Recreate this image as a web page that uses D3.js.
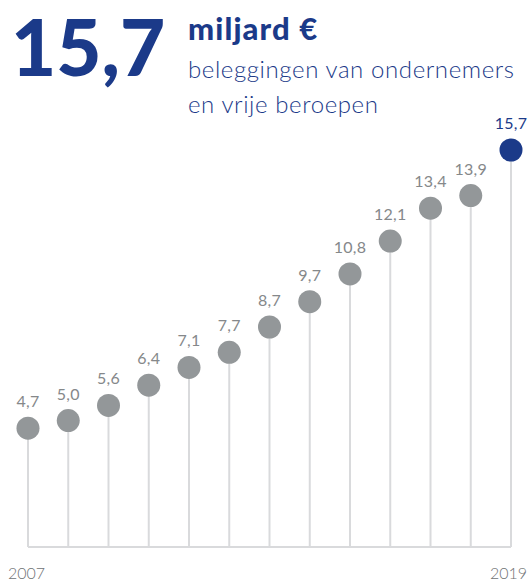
<!DOCTYPE html>
<html>
<head>
<meta charset="utf-8">
<script src="https://cdn.jsdelivr.net/npm/d3@7"></script>
<style>
  body { margin: 0; background: #fff; }
  svg { display: block; font-family: Lato, "Open Sans", sans-serif; }
</style>
</head>
<body>
<svg id="chart" width="528" height="581"></svg>
<script>
// data
let years = [2007, 2008, 2009, 2010, 2011, 2012, 2013, 2014, 2015, 2016, 2017, 2018, 2019];
let values = [4.7, 5.0, 5.6, 6.4, 7.1, 7.7, 8.7, 9.7, 10.8, 12.1, 13.4, 13.9, 15.7];
let yearLabels = ["2007", "2019"];

let blue = "#1b3a89";
let grey = "#939799";

let svg = d3.select("#chart");

//x,y scales
let x = d3.scaleLinear()
            .domain([2007, 2019])
            .range([28, 511]);
let y = d3.scaleLinear()
            .domain([0, 15.7])
            .range([547, 150]);

// header
svg.append("text")
    .attr("x", 11)
    .attr("y", 76)
    .attr("font-size", "78px")
    .attr("font-weight", 900)
    .attr("fill", blue)
    .text("15,7");

svg.append("text")
    .attr("x", 188)
    .attr("y", 40)
    .attr("font-size", "31px")
    .attr("font-weight", 900)
    .attr("letter-spacing", "1.1px")
    .attr("fill", blue)
    .text("miljard €");

svg.append("text")
    .attr("x", 188)
    .attr("y", 78)
    .attr("font-size", "24px")
    .attr("font-weight", 300)
    .attr("letter-spacing", "0.6px")
    .attr("fill", blue)
    .text("beleggingen van ondernemers");

svg.append("text")
    .attr("x", 188)
    .attr("y", 113)
    .attr("font-size", "24px")
    .attr("font-weight", 300)
    .attr("letter-spacing", "0.6px")
    .attr("fill", blue)
    .text("en vrije beroepen");

// stems
svg.selectAll("line.stem")
    .data(values)
    .enter()
    .append("line")
        .attr("class", "stem")
        .attr("x1", (d, i) => x(years[i]))
        .attr("x2", (d, i) => x(years[i]))
        .attr("y1", y(0))
        .attr("y2", d => y(d))
        .attr("stroke", "#d9dadc")
        .attr("stroke-width", 2);

// baseline
svg.append("line")
    .attr("x1", x(years[0]))
    .attr("x2", x(years[years.length - 1]))
    .attr("y1", y(0))
    .attr("y2", y(0))
    .attr("stroke", "#d9dadc")
    .attr("stroke-width", 2);

// dots
svg.selectAll("circle")
    .data(values)
    .enter()
    .append("circle")
        .attr("cx", (d, i) => x(years[i]))
        .attr("cy", d => y(d))
        .attr("r", 11.5)
        .attr("fill", (d, i) => i === values.length - 1 ? blue : grey);

// value labels
svg.selectAll("text.val")
    .data(values)
    .enter()
    .append("text")
        .attr("class", "val")
        .attr("x", (d, i) => x(years[i]))
        .attr("y", d => y(d) - 21)
        .attr("text-anchor", "middle")
        .attr("font-size", "16px")
        .attr("font-weight", 400)
        .attr("letter-spacing", "0.3px")
        .attr("fill", (d, i) => i === values.length - 1 ? blue : "#85888a")
        .text(d => d.toFixed(1).replace(".", ","));

// year labels (first left-aligned, last right-aligned)
svg.selectAll("text.year")
    .data(yearLabels)
    .enter()
    .append("text")
        .attr("class", "year")
        .attr("x", (d, i) => i === 0 ? 8 : 527)
        .attr("y", 579)
        .attr("text-anchor", (d, i) => i === 0 ? "start" : "end")
        .attr("font-size", "16px")
        .attr("font-weight", 300)
        .attr("fill", "#6f7274")
        .text(d => d);
</script>
</body>
</html>
